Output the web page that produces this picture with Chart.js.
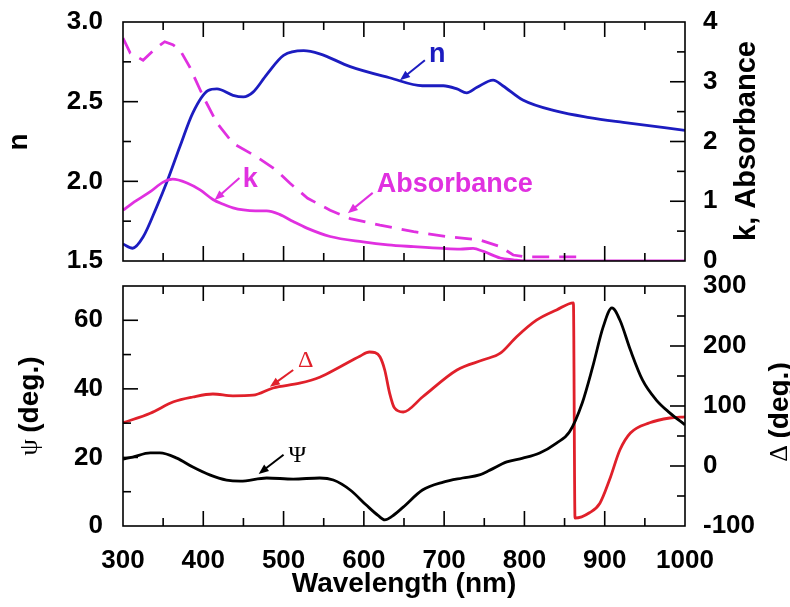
<!DOCTYPE html>
<html>
<head>
<meta charset="utf-8">
<script src="https://cdn.jsdelivr.net/npm/chart.js@4.4.1/dist/chart.umd.min.js"></script>
<style>
    body { margin: 0; background: #fff; }
    #wrap { position: relative; width: 790px; height: 607px; overflow: hidden; background: #fff; }
    canvas { position: absolute; left: 0; }
</style>
</head>
<body>
<div id="wrap">
    <canvas id="topChart" width="790" height="312" style="top:-14px"></canvas>
    <canvas id="bottomChart" width="790" height="357" style="top:250px"></canvas>
</div>
<script>
// Top panel: refractive index n (left axis), k and absorbance (right axis)
const nWavelength = [300, 312, 325, 342, 355, 371, 387, 406, 417, 437, 450, 462, 479, 500, 525, 545, 583, 632, 673, 699, 716, 728, 741, 761, 773, 798, 840, 881, 923, 1000];
const nValues = [1.607, 1.58, 1.65, 1.84, 2.0, 2.22, 2.43, 2.57, 2.58, 2.54, 2.53, 2.56, 2.67, 2.79, 2.82, 2.80, 2.72, 2.65, 2.60, 2.60, 2.58, 2.555, 2.59, 2.635, 2.60, 2.51, 2.44, 2.40, 2.37, 2.32];

const kWavelength = [300, 312, 334, 350, 362, 379, 396, 412, 425, 437, 450, 465, 479, 495, 512, 529, 558, 599, 630, 662, 699, 720, 736, 749, 770, 786, 800, 1000];
const kValues = [0.85, 0.97, 1.16, 1.32, 1.37, 1.31, 1.19, 1.03, 0.95, 0.89, 0.855, 0.84, 0.84, 0.78, 0.66, 0.55, 0.41, 0.32, 0.27, 0.24, 0.21, 0.20, 0.21, 0.16, 0.05, 0.02, 0.0, 0.0];

const absWavelength = [300, 309, 325, 340, 352, 362, 371, 383, 400, 417, 437, 467, 491, 508, 530, 558, 583, 620, 662, 703, 745, 770, 786, 800, 870];
const absValues = [3.73, 3.48, 3.36, 3.55, 3.67, 3.62, 3.53, 3.25, 2.75, 2.31, 1.97, 1.74, 1.52, 1.30, 1.05, 0.85, 0.71, 0.60, 0.49, 0.41, 0.35, 0.24, 0.10, 0.07, 0.07];

// Bottom panel: ellipsometric psi (left axis) and delta (right axis)
const psiWavelength = [300, 312, 334, 346, 367, 387, 408, 429, 446, 479, 512, 545, 562, 583, 603, 618, 626, 635, 649, 673, 699, 723, 744, 757, 778, 798, 819, 840, 856, 872, 885, 898, 909, 919, 932, 947, 964, 981, 1000];
const psiValues = [19.5, 20.1, 21.3, 21.3, 19.8, 17.2, 14.9, 13.4, 13.1, 14.0, 13.7, 14.0, 13.4, 10.5, 6.1, 3.0, 1.8, 2.8, 5.5, 10.5, 12.8, 14.0, 14.9, 16.3, 18.7, 19.8, 21.3, 24.2, 27.4, 35.9, 46.4, 58, 63.6, 60, 51.3, 42.6, 36.8, 33, 29.5];

const deltaWavelength = [300, 334, 363, 387, 412, 437, 462, 487, 520, 545, 570, 595, 607, 614, 620, 626, 632, 638, 649, 673, 716, 749, 770, 790, 815, 840, 861, 863, 881, 894, 906, 919, 932, 956, 981, 1000];
const deltaValues = [72, 88, 107, 115, 120, 117, 118, 130, 138, 148, 165, 183, 190, 189, 182, 160, 122, 97, 90, 115, 160, 177, 188, 215, 243, 260, 272, -87, -78, -62, -23, 27, 55, 72, 80, 82];

const BLUE = '#1c1cc0';
const MAGENTA = '#e030e0';
const RED = '#e0202a';
const SANS = '"Liberation Sans", Arial, sans-serif';
const SERIF = '"Liberation Serif", "Times New Roman", serif';
const tickFont = { family: SANS, size: 26, weight: 'bold' };

Chart.defaults.font.family = SANS;

function pairs(xs, ys) {
    return xs.map((x, i) => ({ x: x, y: ys[i] }));
}

function isMajor(v, step) {
    return Math.abs(v / step - Math.round(v / step)) < 1e-6;
}

function drawParts(ctx, parts, x, y, rot, baseline) {
    ctx.save();
    ctx.translate(x, y);
    ctx.rotate(rot);
    let total = 0;
    parts.forEach(p => { ctx.font = p.font; total += ctx.measureText(p.text).width; });
    let cx = -total / 2;
    ctx.textAlign = 'left';
    ctx.textBaseline = baseline || 'middle';
    parts.forEach(p => {
        ctx.font = p.font;
        ctx.fillStyle = p.color || '#000';
        ctx.fillText(p.text, cx, 0);
        cx += ctx.measureText(p.text).width;
    });
    ctx.restore();
}

function drawArrow(ctx, x1, y1, x2, y2, color) {
    const ang = Math.atan2(y2 - y1, x2 - x1);
    const head = 10;
    ctx.save();
    ctx.strokeStyle = color;
    ctx.fillStyle = color;
    ctx.lineWidth = 2;
    ctx.beginPath();
    ctx.moveTo(x1, y1);
    ctx.lineTo(x2 - Math.cos(ang) * head * 0.8, y2 - Math.sin(ang) * head * 0.8);
    ctx.stroke();
    ctx.beginPath();
    ctx.moveTo(x2, y2);
    ctx.lineTo(x2 - head * Math.cos(ang) + 4 * Math.sin(ang), y2 - head * Math.sin(ang) - 4 * Math.cos(ang));
    ctx.lineTo(x2 - head * Math.cos(ang) - 4 * Math.sin(ang), y2 - head * Math.sin(ang) + 4 * Math.cos(ang));
    ctx.closePath();
    ctx.fill();
    ctx.restore();
}

// Frame, inward tick marks, labels on the curves and axis titles
const framePlugin = {
    id: 'frame',
    afterDatasetsDraw(chart, args, opts) {
        const ctx = chart.ctx;
        const a = chart.chartArea;
        ctx.save();
        ctx.strokeStyle = '#000';
        ctx.lineWidth = 1.6;
        ctx.strokeRect(a.left, a.top, a.right - a.left, a.bottom - a.top);

        Object.values(chart.scales).forEach(scale => {
            const step = opts.major[scale.id];
            scale.ticks.forEach(t => {
                if (t.value === scale.min || t.value === scale.max) return;
                const len = isMajor(t.value, step) ? 15 : 8;
                const p = scale.getPixelForValue(t.value);
                ctx.beginPath();
                if (scale.isHorizontal()) {
                    ctx.moveTo(p, a.bottom); ctx.lineTo(p, a.bottom - len);
                    ctx.moveTo(p, a.top); ctx.lineTo(p, a.top + len);
                } else if (scale.position === 'left') {
                    ctx.moveTo(a.left, p); ctx.lineTo(a.left + len, p);
                } else {
                    ctx.moveTo(a.right, p); ctx.lineTo(a.right - len, p);
                }
                ctx.stroke();
            });
        });
        ctx.restore();

        const xs = chart.scales.x;
        (opts.notes || []).forEach(note => {
            const ys = chart.scales[note.axis];
            ctx.save();
            ctx.font = note.font;
            ctx.fillStyle = note.color;
            ctx.textAlign = 'left';
            ctx.textBaseline = 'alphabetic';
            ctx.fillText(note.text, xs.getPixelForValue(note.x), ys.getPixelForValue(note.y));
            ctx.restore();
            drawArrow(ctx,
                xs.getPixelForValue(note.from[0]), ys.getPixelForValue(note.from[1]),
                xs.getPixelForValue(note.to[0]), ys.getPixelForValue(note.to[1]),
                note.color);
        });

        (opts.titles || []).forEach(t => drawParts(ctx, t.parts, t.x, t.y, t.rot, t.baseline));
    }
};

function xScale(height, showLabels) {
    return {
        type: 'linear',
        min: 300,
        max: 1000,
        ticks: {
            stepSize: 50,
            autoSkip: false,
            maxRotation: 0,
            display: showLabels,
            padding: 19,
            color: '#000',
            font: tickFont,
            callback: v => isMajor(v, 100) ? String(v) : ''
        },
        grid: { display: false, drawTicks: false },
        border: { display: false },
        afterFit: s => { s.height = height; }
    };
}

function yScale(position, min, max, step, major, digits, width, padding) {
    return {
        type: 'linear',
        position: position,
        min: min,
        max: max,
        ticks: {
            stepSize: step,
            autoSkip: false,
            padding: padding,
            color: '#000',
            font: tickFont,
            callback: v => isMajor(v, major) ? v.toFixed(digits) : ''
        },
        grid: { display: false, drawTicks: false },
        border: { display: false },
        afterFit: s => { s.width = width; }
    };
}

function lineSet(label, xs, ys, color, axis, extra) {
    return Object.assign({
        label: label,
        data: pairs(xs, ys),
        borderColor: color,
        backgroundColor: color,
        borderWidth: 2.8,
        pointRadius: 0,
        cubicInterpolationMode: 'monotone',
        yAxisID: axis,
        fill: false
    }, extra || {});
}

const boldNote = 'bold 27px ' + SANS;
const boldTitle = 'bold 28px ' + SANS;

new Chart(document.getElementById('topChart'), {
    type: 'line',
    data: {
        datasets: [
            lineSet('Absorbance', absWavelength, absValues, MAGENTA, 'yK', { borderDash: [17, 10], cubicInterpolationMode: 'default', tension: 0 }),
            lineSet('k', kWavelength, kValues, MAGENTA, 'yK'),
            lineSet('n', nWavelength, nValues, BLUE, 'yN')
        ]
    },
    options: {
        responsive: false,
        animation: false,
        devicePixelRatio: 1,
        layout: { padding: { top: 36, left: 0, right: 0, bottom: 0 } },
        scales: {
            x: xScale(37, false),
            yN: yScale('left', 1.5, 3.0, 0.25, 0.5, 1, 123, 20),
            yK: yScale('right', 0, 4, 0.5, 1, 0, 105, 18)
        },
        plugins: {
            legend: { display: false },
            tooltip: { enabled: false },
            frame: {
                major: { x: 100, yN: 0.5, yK: 1 },
                notes: [
                    { text: 'n', font: boldNote, color: BLUE, axis: 'yN', x: 681, y: 2.75, from: [676, 2.76], to: [645, 2.635] },
                    { text: 'k', font: boldNote, color: MAGENTA, axis: 'yK', x: 449, y: 1.24, from: [445, 1.39], to: [414, 1.02] },
                    { text: 'Absorbance', font: boldNote, color: MAGENTA, axis: 'yK', x: 616, y: 1.155, from: [611, 1.14], to: [580, 0.80] }
                ],
                titles: [
                    { parts: [{ text: 'n', font: boldTitle }], x: 19, y: 156, rot: -Math.PI / 2 },
                    { parts: [{ text: 'k, Absorbance', font: 'bold 29px ' + SANS }], x: 747, y: 155, rot: -Math.PI / 2 }
                ]
            }
        }
    },
    plugins: [framePlugin]
});

new Chart(document.getElementById('bottomChart'), {
    type: 'line',
    data: {
        datasets: [
            lineSet('psi', psiWavelength, psiValues, '#000', 'yPsi'),
            lineSet('delta', deltaWavelength, deltaValues, RED, 'yDelta')
        ]
    },
    options: {
        responsive: false,
        animation: false,
        devicePixelRatio: 1,
        layout: { padding: { top: 36, left: 0, right: 0, bottom: 0 } },
        scales: {
            x: xScale(81, true),
            yPsi: yScale('left', 0, 70, 10, 20, 0, 123, 20),
            yDelta: yScale('right', -100, 300, 50, 100, 0, 105, 18)
        },
        plugins: {
            legend: { display: false },
            tooltip: { enabled: false },
            frame: {
                major: { x: 100, yPsi: 20, yDelta: 100 },
                notes: [
                    { text: '\u0394', font: '24px ' + SERIF, color: RED, axis: 'yDelta', x: 518, y: 165, from: [512, 160], to: [483, 132] },
                    { text: '\u03a8', font: '24px ' + SERIF, color: '#000', axis: 'yPsi', x: 506, y: 18.7, from: [500, 20.8], to: [469, 15.2] }
                ],
                titles: [
                    { parts: [{ text: '\u03c8 ', font: '26px ' + SERIF }, { text: '(deg.)', font: boldTitle }], x: 30, y: 156, rot: -Math.PI / 2 },
                    { parts: [{ text: '\u0394 ', font: '26px ' + SERIF }, { text: '(deg.)', font: boldTitle }], x: 780, y: 162, rot: -Math.PI / 2 },
                    { parts: [{ text: 'Wavelength (nm)', font: boldTitle }], x: 404, y: 342, rot: 0, baseline: 'alphabetic' }
                ]
            }
        }
    },
    plugins: [framePlugin]
});
</script>
</body>
</html>
